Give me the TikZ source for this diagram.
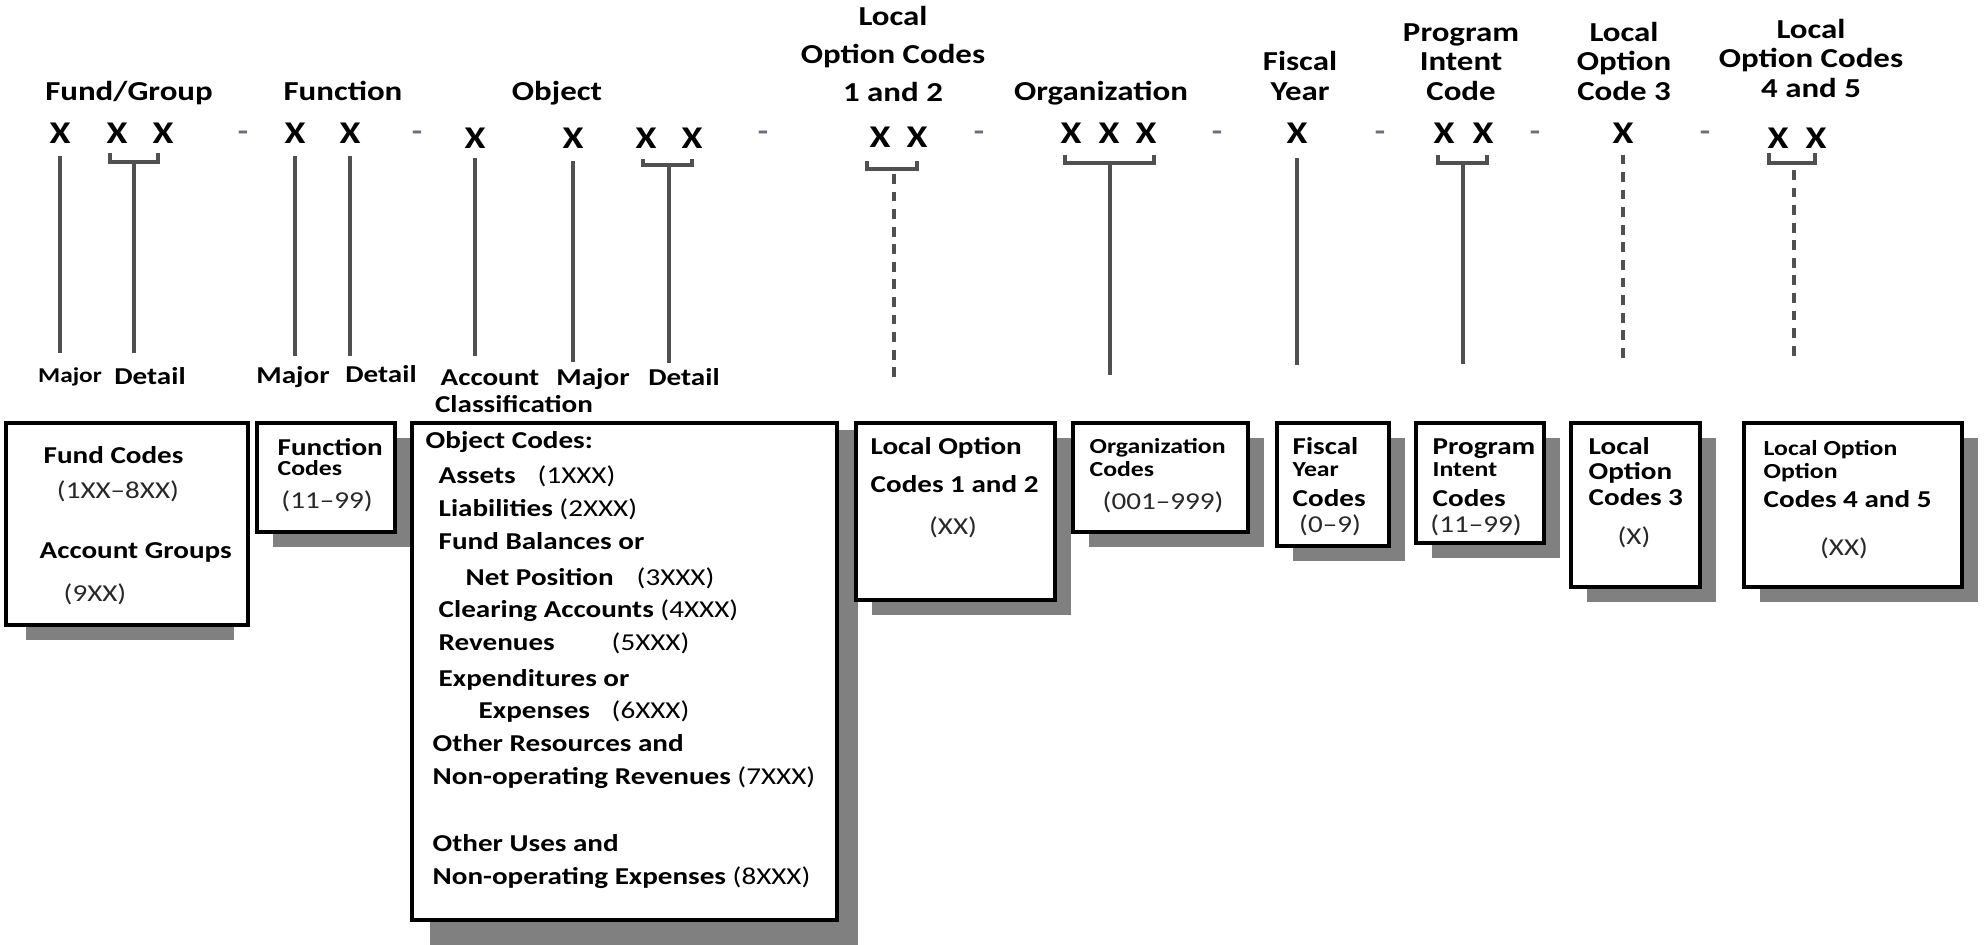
\documentclass[tikz,border=0pt]{standalone}
\usepackage{fontspec}
\setmainfont{Carlito}[FakeStretch=1.2]
\usetikzlibrary{positioning,shadows}
\definecolor{boxshade}{RGB}{128,128,128}
\definecolor{linegray}{RGB}{80,80,80}
\definecolor{dashgray}{RGB}{110,110,120}
\definecolor{codegray}{RGB}{40,40,40}
\tikzstyle{digit} = [font=\fontsize{9}{9}\selectfont\bfseries, inner sep=1pt]
\tikzstyle{dashmark} = [font=\fontsize{8}{8}\selectfont\bfseries, text=dashgray, inner sep=0pt]
\tikzstyle{headtxt} = [font=\fontsize{7.8}{8.4}\selectfont\bfseries, align=center, anchor=south, inner sep=0pt]
\tikzstyle{part} = [font=\fontsize{6.9}{8}\selectfont\bfseries, anchor=base, inner sep=0pt]
\tikzstyle{link} = [line width=0.9pt, color=linegray]
\tikzstyle{optlink} = [link, dash pattern=on 2.8pt off 2.2pt]
\tikzstyle{codebox} = [rectangle, draw=black, line width=1.1pt, fill=white, outer sep=0pt, anchor=north west]
\tikzstyle{dropped} = [drop shadow={shadow xshift=0.16cm, shadow yshift=-0.15cm, fill=boxshade, opacity=1}]
\tikzstyle{txt} = [font=\fontsize{6.9}{8}\selectfont\bfseries, anchor=base west, inner sep=0pt]
\tikzstyle{smalltxt} = [font=\fontsize{6.1}{7}\selectfont\bfseries, anchor=base west, inner sep=0pt]
\tikzstyle{rng} = [font=\fontsize{6.9}{8}\selectfont, text=codegray, anchor=base, inner sep=0pt]

\begin{document}
\begin{tikzpicture}
\useasboundingbox (0,0) rectangle (19.84,-9.44);
% Code segments
\node (fx1) [digit] at (0.60,-1.33) {X};
\node (fx2) [digit] at (1.17,-1.33) {X};
\node (fx3) [digit] at (1.63,-1.33) {X};
\node (ux1) [digit] at (2.95,-1.33) {X};
\node (ux2) [digit] at (3.50,-1.33) {X};
\node (ox1) [digit] at (4.75,-1.38) {X};
\node (ox2) [digit] at (5.73,-1.38) {X};
\node (ox3) [digit] at (6.46,-1.38) {X};
\node (ox4) [digit] at (6.92,-1.38) {X};
\node (lx1) [digit] at (8.80,-1.37) {X};
\node (lx2) [digit] at (9.17,-1.37) {X};
\node (gx1) [digit] at (10.71,-1.33) {X};
\node (gx2) [digit] at (11.09,-1.33) {X};
\node (gx3) [digit] at (11.46,-1.33) {X};
\node (yx) [digit] at (12.97,-1.33) {X};
\node (px1) [digit] at (14.44,-1.33) {X};
\node (px2) [digit] at (14.83,-1.33) {X};
\node (cx) [digit] at (16.23,-1.33) {X};
\node (mx1) [digit] at (17.78,-1.38) {X};
\node (mx2) [digit] at (18.16,-1.38) {X};

\node (d1) [dashmark] at (2.43,-1.36) {-};
\node (d2) [dashmark] at (4.17,-1.36) {-};
\node (d3) [dashmark] at (7.63,-1.36) {-};
\node (d4) [dashmark] at (9.79,-1.36) {-};
\node (d5) [dashmark] at (12.17,-1.36) {-};
\node (d6) [dashmark] at (13.80,-1.36) {-};
\node (d7) [dashmark] at (15.35,-1.36) {-};
\node (d8) [dashmark] at (17.05,-1.36) {-};

% Segment names
\node (hfund) [headtxt] at (1.29,-1.10) {Fund/Group\strut};
\node (hfunc) [headtxt] at (3.43,-1.10) {Function\strut};
\node (hobj) [headtxt] at (5.57,-1.10) {Object\strut};
\node (hloc12) [headtxt, font=\fontsize{7.8}{10.8}\selectfont\bfseries] at (8.93,-1.134) {Local\\Option Codes\\1 and 2\strut};
\node (horg) [headtxt] at (11.01,-1.10) {Organization\strut};
\node (hfisc) [headtxt] at (13.00,-1.10) {Fiscal\\Year\strut};
\node (hprog) [headtxt] at (14.61,-1.10) {Program\\Intent\\Code\strut};
\node (hloc3) [headtxt] at (16.24,-1.10) {Local\\Option\\Code 3\strut};
\node (hloc45) [headtxt] at (18.11,-1.07) {Local\\Option Codes\\4 and 5\strut};

\node (fmaj) [part, font=\fontsize{6}{7}\selectfont\bfseries] at (0.70,-3.82) {Major};
\node (fdet) [part] at (1.50,-3.84) {Detail};
\node (umaj) [part] at (2.93,-3.83) {Major};
\node (udet) [part] at (3.81,-3.82) {Detail};
\node (oacc) [part] at (4.90,-3.85) {Account};
\node (ocls) [part] at (5.14,-4.12) {Classification};
\node (omaj) [part] at (5.93,-3.85) {Major};
\node (odet) [part] at (6.84,-3.85) {Detail};

% Leader lines
\coordinate (fmajE) at (fx1 |- 0,-3.53);
\draw[link, shorten <=2.5pt] (fx1) -- (fmajE);
\draw[link] (1.10,-1.53) |- (1.58,-1.62) -- (1.58,-1.53);
\coordinate (fdetS) at (1.34,-1.62);
\coordinate (fdetE) at (1.34,-3.53);
\draw[link] (fdetS) -- (fdetE);

\coordinate (umajE) at (ux1 |- 0,-3.56);
\coordinate (udetE) at (ux2 |- 0,-3.56);
\draw[link, shorten <=2.5pt] (ux1) -- (umajE);
\draw[link, shorten <=2.5pt] (ux2) -- (udetE);

\coordinate (oaccE) at (ox1 |- 0,-3.56);
\coordinate (omajE) at (ox2 |- 0,-3.62);
\draw[link, shorten <=1.5pt] (ox1) -- (oaccE);
\draw[link, shorten <=2.5pt] (ox2) -- (omajE);
\draw[link] (6.43,-1.59) |- (6.92,-1.65) -- (6.92,-1.59);
\coordinate (odetS) at (6.69,-1.65);
\coordinate (odetE) at (6.69,-3.63);
\draw[link] (odetS) -- (odetE);

\draw[link] (8.67,-1.61) |- (9.17,-1.69) -- (9.17,-1.61);
\coordinate (lS) at (8.94,-1.74);
\coordinate (lE) at (8.94,-3.82);
\draw[optlink] (lS) -- (lE);

\draw[link] (10.65,-1.55) |- (11.54,-1.63) -- (11.54,-1.55);
\coordinate (gS) at (11.10,-1.63);
\coordinate (gE) at (11.10,-3.75);
\draw[link] (gS) -- (gE);

\coordinate (yE) at (yx |- 0,-3.65);
\draw[link, shorten <=3pt] (yx) -- (yE);

\draw[link] (14.38,-1.55) |- (14.87,-1.63) -- (14.87,-1.55);
\coordinate (pS) at (14.63,-1.63);
\coordinate (pE) at (14.63,-3.64);
\draw[link] (pS) -- (pE);

\coordinate (cE) at (cx |- 0,-3.61);
\draw[optlink, shorten <=2pt] (cx) -- (cE);

\draw[link] (17.69,-1.53) |- (18.15,-1.63) -- (18.15,-1.53);
\coordinate (mS) at (17.94,-1.70);
\coordinate (mE) at (17.94,-3.60);
\draw[optlink] (mS) -- (mE);

% Code boxes
\fill[boxshade] (0.26,-4.35) rectangle (2.34,-6.40);
\fill[boxshade] (4.30,-4.30) rectangle (8.58,-9.50);
\node (fundbox) [codebox, minimum width=2.42cm, minimum height=2.02cm] at (0.06,-4.23) {};
\node (funcbox) [codebox, dropped, minimum width=1.38cm, minimum height=1.09cm, right=0.09cm of fundbox.north east, anchor=north west] {};
\node (objbox) [codebox, minimum width=4.25cm, minimum height=4.97cm, right=0.17cm of funcbox.north east, anchor=north west] {};
\node (loc12box) [codebox, dropped, minimum width=1.99cm, minimum height=1.77cm, right=0.19cm of objbox.north east, anchor=north west] {};
\node (orgbox) [codebox, dropped, minimum width=1.75cm, minimum height=1.09cm, right=0.18cm of loc12box.north east, anchor=north west] {};
\node (fiscbox) [codebox, dropped, minimum width=1.12cm, minimum height=1.23cm, right=0.29cm of orgbox.north east, anchor=north west] {};
\node (progbox) [codebox, dropped, minimum width=1.28cm, minimum height=1.20cm, right=0.27cm of fiscbox.north east, anchor=north west] {};
\node (loc3box) [codebox, dropped, minimum width=1.29cm, minimum height=1.64cm, right=0.27cm of progbox.north east, anchor=north west] {};
\node (loc45box) [codebox, dropped, minimum width=2.18cm, minimum height=1.64cm, right=0.44cm of loc3box.north east, anchor=north west] {};

\node (fb1) [txt] at (0.43,-4.63) {Fund Codes};
\node (fb2) [rng] at (1.18,-4.98) {(1XX--8XX)};
\node (fb3) [txt] at (0.39,-5.58) {Account Groups};
\node (fb4) [rng] at (0.95,-6.01) {(9XX)};

\node (ub1) [txt] at (2.77,-4.55) {Function};
\node (ub2) [smalltxt] at (2.77,-4.75) {Codes};
\node (ub3) [rng] at (3.27,-5.08) {(11--99)};

\node (ob1) [txt] at (4.25,-4.48) {Object Codes:};
\node (ob2) [txt] at (4.38,-4.83) {\makebox[0.99cm][l]{Assets}\mdseries(1XXX)};
\node (ob3) [txt] at (4.38,-5.16) {Liabilities \mdseries(2XXX)};
\node (ob4) [txt] at (4.38,-5.49) {Fund Balances or};
\node (ob5) [txt] at (4.65,-5.85) {\makebox[1.71cm][l]{Net Position}\mdseries(3XXX)};
\node (ob6) [txt] at (4.38,-6.17) {Clearing Accounts \mdseries(4XXX)};
\node (ob7) [txt] at (4.38,-6.50) {\makebox[1.73cm][l]{Revenues}\mdseries(5XXX)};
\node (ob8) [txt] at (4.38,-6.86) {Expenditures or};
\node (ob9) [txt] at (4.78,-7.18) {\makebox[1.33cm][l]{Expenses}\mdseries(6XXX)};
\node (ob10) [txt] at (4.32,-7.51) {Other Resources and};
\node (ob11) [txt] at (4.32,-7.84) {Non-operating Revenues \mdseries(7XXX)};
\node (ob12) [txt] at (4.32,-8.51) {Other Uses and};
\node (ob13) [txt] at (4.32,-8.84) {Non-operating Expenses \mdseries(8XXX)};

\node (lb1) [txt] at (8.70,-4.54) {Local Option};
\node (lb2) [txt] at (8.70,-4.92) {Codes 1 and 2};
\node (lb3) [rng] at (9.53,-5.34) {(XX)};

\node (gb1) [smalltxt] at (10.89,-4.53) {Organization};
\node (gb2) [smalltxt] at (10.89,-4.76) {Codes};
\node (gb3) [rng] at (11.63,-5.09) {(001--999)};

\node (yb1) [txt] at (12.92,-4.54) {Fiscal};
\node (yb2) [smalltxt] at (12.92,-4.76) {Year};
\node (yb3) [txt] at (12.92,-5.06) {Codes};
\node (yb4) [rng] at (13.30,-5.32) {(0--9)};

\node (pb1) [txt] at (14.32,-4.54) {Program};
\node (pb2) [smalltxt] at (14.32,-4.76) {Intent};
\node (pb3) [txt] at (14.32,-5.06) {Codes};
\node (pb4) [rng] at (14.76,-5.32) {(11--99)};

\node (cb1) [txt] at (15.88,-4.54) {Local};
\node (cb2) [txt] at (15.88,-4.79) {Option};
\node (cb3) [txt] at (15.88,-5.05) {Codes 3};
\node (cb4) [rng] at (16.34,-5.44) {(X)};

\node (mb1) [smalltxt] at (17.63,-4.55) {Local Option};
\node (mb2) [smalltxt] at (17.63,-4.78) {Option};
\node (mb3) [txt] at (17.63,-5.07) {Codes 4 and 5};
\node (mb4) [rng] at (18.44,-5.55) {(XX)};
\end{tikzpicture}
\end{document}
